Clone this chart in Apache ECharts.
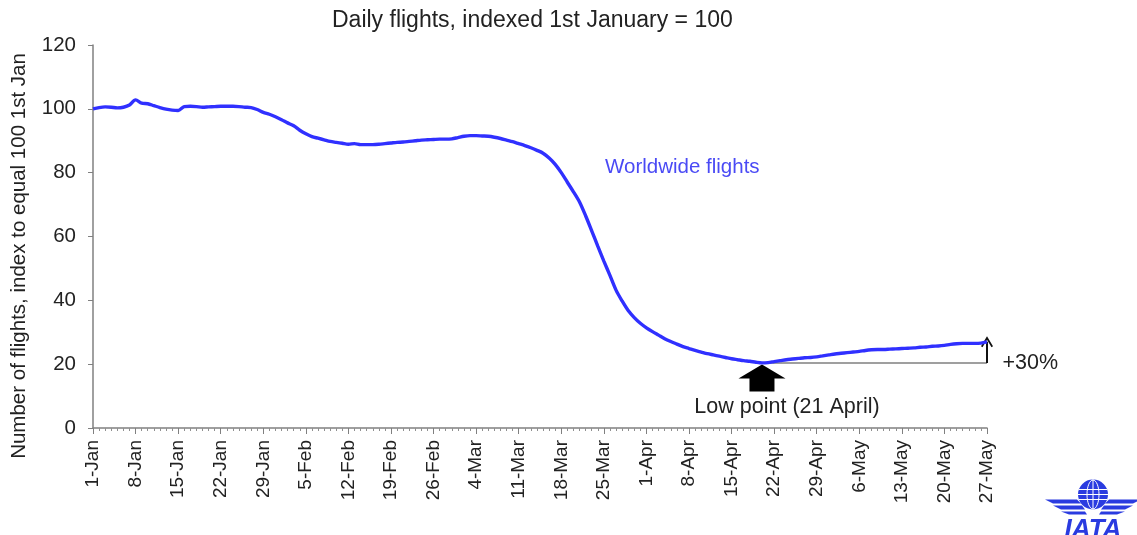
<!DOCTYPE html>
<html><head><meta charset="utf-8">
<script src="https://cdn.jsdelivr.net/npm/echarts@6/dist/echarts.min.js"></script>
<style>html,body{margin:0;padding:0;background:#fff}#c{width:1137px;height:535px}</style>
</head><body><div id="c"></div>
<script>
// Tick labels every 7 days, starting 1-Jan (day index 0)
const xTickLabels = ['1-Jan','8-Jan','15-Jan','22-Jan','29-Jan','5-Feb','12-Feb','19-Feb','26-Feb','4-Mar','11-Mar','18-Mar','25-Mar','1-Apr','8-Apr','15-Apr','22-Apr','29-Apr','6-May','13-May','20-May','27-May'];
const yTicks = [0, 20, 40, 60, 80, 100, 120];
// Daily worldwide flights index (1-Jan = 100), one value per day 1-Jan .. 27-May
const flights = [
100.0,100.4,100.6,100.5,100.3,100.5,101.2,102.8,101.8,101.6,
101.0,100.4,99.9,99.6,99.5,100.7,100.8,100.7,100.5,100.6,
100.7,100.8,100.8,100.8,100.7,100.5,100.4,99.8,98.9,98.3,
97.5,96.6,95.6,94.7,93.3,92.2,91.3,90.8,90.3,89.8,
89.5,89.2,88.9,89.1,88.8,88.8,88.8,88.9,89.1,89.3,
89.5,89.6,89.8,90.0,90.2,90.3,90.4,90.5,90.5,90.6,
91.0,91.4,91.6,91.6,91.5,91.4,91.1,90.7,90.2,89.7,
89.1,88.5,87.8,87.0,86.1,84.6,82.6,80.0,77.0,74.0,
70.8,66.5,61.8,57.0,52.3,47.8,43.2,39.8,36.8,34.6,
32.8,31.4,30.2,29.1,28.0,27.1,26.3,25.5,24.9,24.3,
23.8,23.3,22.9,22.5,22.1,21.7,21.4,21.1,20.9,20.6,
20.4,20.5,20.8,21.1,21.4,21.6,21.8,22.0,22.1,22.3,
22.6,22.9,23.2,23.4,23.6,23.8,24.0,24.3,24.5,24.6,
24.6,24.7,24.8,24.9,25.0,25.1,25.3,25.4,25.6,25.7,
25.9,26.2,26.4,26.5,26.5,26.5,26.6,27.0
];
const seriesName = 'Worldwide flights';
const yAxisTitle = 'Number of flights, index to equal 100 1st Jan';
const lowLabel = 'Low point (21 April)';
const riseLabel = '+30%';

const lineData = flights.map((v, i) => [i, v]);
const lastIdx = flights.length - 1;
const lowVal = Math.min(...flights);
const lowIdx = flights.indexOf(lowVal);
const lastVal = flights[lastIdx];

const FONT = '"Liberation Sans", Arial, sans-serif';
const chart = echarts.init(document.getElementById('c'));
chart.setOption({
  animation: false,
  backgroundColor: '#fff',
  title: {
    text: 'Daily flights, indexed 1st January = 100',
    left: 327, top: 4,
    textStyle: {fontFamily: FONT, fontSize: 23, fontWeight: 'normal', color: '#222'}
  },
  grid: {left: 93, right: 150, top: 45, bottom: 107, containLabel: false},
  xAxis: {
    type: 'value', min: 0, max: lastIdx, interval: 7,
    axisLine: {show: true, lineStyle: {color: '#808080', width: 1.5}},
    axisTick: {show: true, length: 6, lineStyle: {color: '#808080'}},
    minorTick: {show: true, splitNumber: 7, length: 3, lineStyle: {color: '#909090'}},
    splitLine: {show: false},
    axisLabel: {
      rotate: 90, margin: 12, fontFamily: FONT, fontSize: 19, color: '#222',
      formatter: v => xTickLabels[Math.round(v / 7)] || ''
    }
  },
  yAxis: {
    type: 'value', min: yTicks[0], max: yTicks[yTicks.length - 1], interval: 20,
    axisLine: {show: true, lineStyle: {color: '#808080', width: 1.5}},
    axisTick: {show: true, length: 5, lineStyle: {color: '#808080'}},
    splitLine: {show: false},
    axisLabel: {margin: 17, fontFamily: FONT, fontSize: 20.5, color: '#222'}
  },
  series: [{
    name: seriesName,
    type: 'line',
    data: lineData,
    showSymbol: false,
    smooth: 0.3,
    lineStyle: {color: '#3030ff', width: 3.4},
    z: 5,
    markLine: {
      silent: true,
      animation: false,
      label: {show: false},
      data: [
        [{coord: [lowIdx, lowVal], symbol: 'none', lineStyle: {color: '#7f7f7f', width: 1.5, type: 'solid'}},
         {coord: [lastIdx, lowVal], symbol: 'none'}],
        [{coord: [lastIdx, lowVal], symbol: 'none', lineStyle: {color: '#111', width: 2, type: 'solid'}},
         {coord: [lastIdx, lastVal], symbol: 'path://M0,10 L6,0 L12,10 L10.5,11 L6,3.5 L1.5,11 Z', symbolSize: [12, 11]}]
      ]
    },
    markPoint: {
      silent: true,
      animation: false,
      data: [
        {coord: [lowIdx, lowVal], symbol: 'path://M23.5,0 L47,14 L36,14 L36,27 L11,27 L11,14 L0,14 Z',
         symbolSize: [47, 27], symbolOffset: [0, 15], itemStyle: {color: '#000'},
         label: {show: true, position: 'bottom', distance: 5, offset: [25, 0], formatter: lowLabel,
                 fontFamily: FONT, fontSize: 21.5, color: '#222'}},
        {coord: [lastIdx, lowVal], symbol: 'circle', symbolSize: 1, itemStyle: {color: 'rgba(0,0,0,0)'},
         label: {show: true, position: 'right', distance: 15, formatter: riseLabel,
                 fontFamily: FONT, fontSize: 21.5, color: '#222'}}
      ]
    }
  }],
  graphic: [
    {type: 'text', x: 19, y: 256, rotation: Math.PI / 2, silent: true,
     style: {text: yAxisTitle, font: '20.5px ' + FONT, fill: '#222', align: 'center', verticalAlign: 'middle'}},
    {type: 'text', left: 605, top: 157, silent: true,
     style: {text: seriesName, font: '20.5px ' + FONT, fill: '#4a4af5'}},
    // IATA logo
    {type: 'group', left: 1045, top: 477, silent: true, children: [
      {type: 'circle', shape: {cx: 48, cy: 16, r: 15}, style: {fill: '#2a3be0'}},
      {type: 'ellipse', shape: {cx: 48, cy: 16, rx: 6, ry: 14.5}, style: {fill: 'none', stroke: '#fff', lineWidth: 1}},
      {type: 'line', shape: {x1: 48, y1: 1, x2: 48, y2: 31}, style: {stroke: '#fff', lineWidth: 1}},
      {type: 'line', shape: {x1: 34, y1: 11, x2: 62, y2: 11}, style: {stroke: '#fff', lineWidth: 1}},
      {type: 'line', shape: {x1: 33, y1: 16, x2: 63, y2: 16}, style: {stroke: '#fff', lineWidth: 1}},
      {type: 'line', shape: {x1: 34, y1: 21, x2: 62, y2: 21}, style: {stroke: '#fff', lineWidth: 1}},
      {type: 'polygon', shape: {points: [[0,21],[32,21],[36,25],[8,25]]}, style: {fill: '#2a3be0'}},
      {type: 'polygon', shape: {points: [[8,27],[37,27],[40,31],[16,31]]}, style: {fill: '#2a3be0'}},
      {type: 'polygon', shape: {points: [[16,33],[40,33],[42,36],[24,36]]}, style: {fill: '#2a3be0'}},
      {type: 'polygon', shape: {points: [[96,21],[64,21],[60,25],[88,25]]}, style: {fill: '#2a3be0'}},
      {type: 'polygon', shape: {points: [[88,27],[59,27],[56,31],[80,31]]}, style: {fill: '#2a3be0'}},
      {type: 'polygon', shape: {points: [[80,33],[56,33],[54,36],[72,36]]}, style: {fill: '#2a3be0'}},
      {type: 'text', x: 48, y: 38, style: {text: 'IATA', font: 'italic bold 26px ' + FONT, fill: '#2a3be0', align: 'center', verticalAlign: 'top'}}
    ]}
  ]
});
</script>
</body></html>
